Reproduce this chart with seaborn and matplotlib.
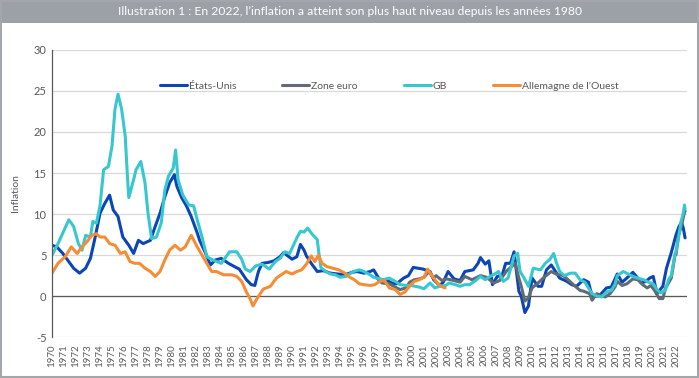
import matplotlib
matplotlib.use('Agg')
import matplotlib.pyplot as plt
from matplotlib.patches import Rectangle
import pandas as pd
import seaborn as sns

# valeurs (annee decimale, inflation %)
us_t = [1970.0, 1970.4, 1970.9, 1971.4, 1971.8, 1972.3, 1972.8, 1973.2, 1973.6, 1974.0, 1974.4, 1974.8,
        1975.1, 1975.5, 1975.9, 1976.4, 1976.8, 1977.2, 1977.6, 1978.2, 1978.6, 1979.0, 1979.4, 1979.8,
        1980.2, 1980.4, 1980.8, 1981.2, 1981.6, 1982.1, 1982.3, 1982.8, 1983.2, 1983.6, 1984.1, 1984.7,
        1985.2, 1985.6, 1986.2, 1986.6, 1986.9, 1987.2, 1987.5, 1988.0, 1988.5, 1989.0, 1989.3, 1990.0,
        1990.4, 1990.7, 1991.0, 1991.2, 1991.6, 1992.1, 1992.6, 1993.2, 1993.8, 1994.4, 1995.0, 1995.4,
        1996.0, 1996.5, 1996.8, 1997.3, 1997.8, 1998.3, 1998.7, 1999.3, 1999.7, 2000.1, 2000.5, 2000.9,
        2001.5, 2001.8, 2002.3, 2002.6, 2003.0, 2003.5, 2004.0, 2004.4, 2005.1, 2005.5, 2005.7, 2006.1,
        2006.4, 2006.7, 2007.1, 2007.5, 2007.8, 2008.2, 2008.5, 2008.9, 2009.1, 2009.4, 2009.7, 2010.0,
        2010.5, 2010.8, 2011.2, 2011.6, 2012.0, 2012.3, 2012.9, 2013.3, 2013.7, 2014.3, 2014.7, 2015.0,
        2015.4, 2015.7, 2016.2, 2016.6, 2017.1, 2017.5, 2017.9, 2018.4, 2018.8, 2019.1, 2019.5, 2019.8,
        2020.1, 2020.4, 2020.9, 2021.2, 2021.6, 2022.0, 2022.25, 2022.45, 2022.6, 2022.75]
us_v = [6.2, 6.0, 5.2, 4.2, 3.4, 2.8, 3.4, 4.6, 7.2, 10.1, 11.3, 12.3,
        10.5, 9.7, 7.2, 6.2, 5.2, 6.8, 6.4, 6.8, 8.5, 10.1, 12.1, 13.8,
        14.8, 13.4, 12.0, 11.0, 9.7, 7.7, 6.8, 5.2, 3.8, 4.4, 4.6, 4.0,
        3.6, 3.3, 2.0, 1.4, 1.3, 3.0, 4.0, 4.1, 4.3, 4.8, 5.3, 4.5,
        4.8, 6.3, 5.6, 4.9, 4.0, 3.0, 3.1, 2.8, 2.7, 2.6, 2.9, 3.0,
        2.8, 3.0, 3.2, 2.0, 2.0, 1.6, 1.5, 2.2, 2.5, 3.5, 3.4, 3.3,
        3.0, 2.0, 1.3, 1.7, 3.0, 2.1, 1.9, 3.0, 3.2, 4.0, 4.7, 3.9,
        4.3, 1.4, 2.4, 2.5, 4.0, 4.0, 5.4, 0.6, 0.0, -2.0, -1.2, 2.2,
        1.2, 1.2, 3.2, 3.8, 2.9, 2.2, 1.8, 1.4, 1.2, 2.0, 1.7, 0.0,
        0.0, 0.2, 1.0, 1.1, 2.7, 1.7, 2.2, 2.9, 2.2, 1.6, 1.8, 2.2,
        2.4, 0.3, 1.2, 3.4, 5.3, 7.5, 8.5, 9.0, 8.3, 7.1]

ez_t = [1997.0, 1997.5, 1998.1, 1998.6, 1999.0, 1999.5, 1999.8, 2000.2, 2000.6, 2001.0, 2001.4, 2001.8,
        2002.0, 2002.5, 2002.9, 2003.5, 2004.0, 2004.4, 2005.0, 2005.7, 2006.2, 2006.8, 2007.3, 2007.9,
        2008.3, 2008.6, 2008.9, 2009.1, 2009.4, 2009.7, 2010.0, 2010.5, 2011.0, 2011.6, 2012.0, 2012.6,
        2013.0, 2013.6, 2014.0, 2014.3, 2014.8, 2015.0, 2015.4, 2015.7, 2016.1, 2016.5, 2016.9, 2017.1,
        2017.5, 2017.9, 2018.4, 2018.8, 2019.3, 2019.6, 2019.9, 2020.2, 2020.6, 2020.9, 2021.1, 2021.6,
        2021.9, 2022.0, 2022.2, 2022.45, 2022.65, 2022.75]
ez_v = [2.3, 1.6, 1.5, 1.1, 0.8, 1.0, 1.7, 2.0, 2.1, 2.3, 3.0, 2.2,
        2.5, 1.9, 2.1, 1.9, 1.7, 2.4, 2.0, 2.5, 2.3, 1.6, 1.9, 3.1,
        3.6, 4.0, 2.2, 1.2, -0.6, -0.2, 1.0, 1.6, 2.3, 3.0, 2.7, 2.5,
        2.0, 1.2, 0.7, 0.6, 0.3, -0.5, 0.3, 0.1, -0.1, 0.3, 1.1, 1.8,
        1.3, 1.5, 2.1, 2.0, 1.3, 1.0, 1.3, 0.7, -0.3, -0.3, 0.9, 2.2,
        4.9, 5.1, 7.4, 8.6, 9.9, 10.4]

gb_t = [1970.0, 1970.5, 1970.9, 1971.4, 1971.8, 1972.2, 1972.5, 1972.8, 1973.2, 1973.4, 1973.7, 1974.0,
        1974.3, 1974.7, 1975.0, 1975.25, 1975.5, 1975.8, 1976.1, 1976.3, 1976.4, 1976.8, 1977.0, 1977.4,
        1977.75, 1978.0, 1978.3, 1978.7, 1979.1, 1979.4, 1979.7, 1980.1, 1980.3, 1980.5, 1980.9, 1981.4,
        1981.8, 1982.1, 1982.5, 1982.9, 1983.4, 1984.1, 1984.8, 1985.4, 1985.8, 1986.1, 1986.5, 1987.0,
        1987.5, 1988.1, 1988.6, 1989.0, 1989.4, 1989.8, 1990.4, 1990.7, 1991.0, 1991.3, 1991.7, 1992.1,
        1992.25, 1992.4, 1992.8, 1993.2, 1993.6, 1994.0, 1994.5, 1995.1, 1995.6, 1996.0, 1996.5, 1996.8,
        1997.6, 1998.1, 1998.6, 1999.0, 1999.5, 1999.9, 2000.6, 2001.0, 2001.5, 2001.9, 2002.3, 2002.8,
        2003.1, 2003.6, 2004.0, 2004.4, 2004.8, 2005.3, 2005.7, 2006.1, 2006.5, 2006.9, 2007.2, 2007.6,
        2008.0, 2008.5, 2008.8, 2009.0, 2009.3, 2009.7, 2010.1, 2010.4, 2010.7, 2011.1, 2011.5, 2011.8,
        2012.0, 2012.3, 2012.7, 2013.2, 2013.6, 2014.0, 2014.4, 2014.7, 2015.0, 2015.4, 2015.8, 2016.2,
        2016.6, 2016.9, 2017.1, 2017.6, 2018.0, 2018.4, 2018.8, 2019.3, 2019.7, 2020.1, 2020.4, 2020.7,
        2021.1, 2021.4, 2021.6, 2021.9, 2022.0, 2022.2, 2022.4, 2022.6, 2022.7, 2022.75]
gb_v = [5.0, 6.4, 7.7, 9.3, 8.5, 6.4, 5.6, 7.4, 7.2, 9.1, 8.9, 11.0,
        15.4, 15.8, 18.3, 22.8, 24.6, 22.8, 19.5, 14.2, 12.0, 14.2, 15.4, 16.4,
        13.8, 10.1, 7.0, 7.2, 8.9, 12.9, 14.6, 15.6, 17.8, 14.2, 12.3, 11.1,
        11.0, 9.3, 7.2, 4.8, 4.4, 4.0, 5.4, 5.4, 4.5, 3.3, 3.0, 3.7,
        3.9, 3.3, 4.2, 4.6, 5.4, 5.2, 7.1, 7.9, 7.8, 8.3, 7.5, 6.9,
        5.1, 3.5, 3.0, 2.7, 2.6, 2.3, 2.4, 3.0, 3.2, 3.0, 2.6, 2.3,
        2.0, 2.2, 1.8, 1.4, 1.3, 1.3, 1.1, 0.9, 1.6, 1.0, 1.2, 1.3,
        1.6, 1.4, 1.2, 1.4, 1.4, 1.9, 2.4, 2.0, 2.4, 2.7, 3.0, 1.8,
        2.2, 4.9, 5.2, 3.0, 2.3, 1.2, 3.4, 3.3, 3.2, 4.0, 4.5, 5.2,
        4.2, 3.0, 2.5, 2.8, 2.8, 2.0, 1.7, 1.0, 0.3, 0.0, -0.1, 0.5,
        0.7, 1.4, 2.5, 3.0, 2.7, 2.4, 2.2, 2.0, 1.7, 1.5, 0.8, 0.4,
        0.7, 2.1, 2.5, 5.1, 5.5, 7.0, 9.0, 10.1, 11.1, 10.6]

de_t = [1970.0, 1970.5, 1971.1, 1971.6, 1972.1, 1972.5, 1972.9, 1973.3, 1973.7, 1974.0, 1974.4, 1974.8,
        1975.25, 1975.7, 1976.1, 1976.5, 1976.9, 1977.3, 1977.75, 1978.2, 1978.6, 1979.0, 1979.4, 1979.8,
        1980.25, 1980.7, 1981.1, 1981.6, 1982.1, 1982.5, 1982.9, 1983.3, 1983.7, 1984.3, 1985.0, 1985.4,
        1985.8, 1986.2, 1986.5, 1986.75, 1987.0, 1987.6, 1988.2, 1988.7, 1989.5, 1990.0, 1990.4, 1990.8,
        1991.2, 1991.6, 1991.9, 1992.2, 1992.5, 1992.9, 1993.4, 1993.9, 1994.4, 1994.8, 1995.2, 1995.6,
        1996.0, 1996.5, 1996.9, 1997.3, 1997.7, 1998.1, 1998.6, 1999.0, 1999.4, 1999.8, 2000.2, 2000.6,
        2001.0, 2001.3, 2001.7, 2002.0, 2002.4, 2002.75]
de_v = [2.8, 4.0, 4.8, 6.0, 5.2, 6.0, 6.6, 7.4, 7.6, 7.2, 7.2, 6.4,
        6.2, 5.2, 5.4, 4.2, 4.0, 4.0, 3.4, 3.0, 2.4, 3.0, 4.4, 5.6,
        6.2, 5.6, 6.0, 7.4, 6.0, 5.0, 4.0, 3.0, 3.0, 2.6, 2.6, 2.4,
        1.8, 0.5, -0.3, -1.2, -0.5, 0.85, 1.2, 2.2, 3.0, 2.7, 3.0, 3.2,
        3.9, 4.9, 4.2, 5.0, 4.0, 3.6, 3.4, 3.2, 2.8, 2.3, 2.0, 1.5,
        1.4, 1.3, 1.4, 1.8, 1.9, 1.0, 0.8, 0.2, 0.5, 1.2, 1.8, 2.0,
        2.3, 3.3, 2.4, 1.8, 1.2, 1.0]

series_names = ['États-Unis', 'Zone euro', 'GB', "Allemagne de l’Ouest"]
colors = ['#0b46b6', '#626b74', '#36c7cf', '#f68d35']
years = list(range(1970, 2023))
yticks = [-5, 0, 5, 10, 15, 20, 25, 30]

df = pd.concat([
    pd.DataFrame({'t': us_t, 'v': us_v, 'pays': series_names[0]}),
    pd.DataFrame({'t': ez_t, 'v': ez_v, 'pays': series_names[1]}),
    pd.DataFrame({'t': gb_t, 'v': gb_v, 'pays': series_names[2]}),
    pd.DataFrame({'t': de_t, 'v': de_v, 'pays': series_names[3]}),
])

sns.set_style('white')
plt.rcParams['font.family'] = ['Lato', 'DejaVu Sans']

fig = plt.figure(figsize=(6.99, 3.78), dpi=100)
ax = fig.add_axes([0.0744, 0.108, 0.9086, 0.760])

sns.lineplot(data=df, x='t', y='v', hue='pays', hue_order=series_names,
             palette=colors, estimator=None, linewidth=2.2, ax=ax, sort=True)

ax.set_xlim(1970, 2022.92)
ax.set_ylim(-5, 30)
ax.set_yticks(yticks)
ax.set_yticklabels([str(y) for y in yticks], fontsize=8, color='#595959')
ax.set_xticks(years)
ax.set_xticklabels([str(y) for y in years], rotation=90, fontsize=7, color='#595959')
ax.tick_params(axis='both', length=0, pad=4)
ax.tick_params(axis='x', pad=5)
ax.grid(axis='y', color='#d9d9d9', linewidth=0.9)
ax.set_axisbelow(True)
for s in ['top', 'right', 'bottom']:
    ax.spines[s].set_visible(False)
ax.spines['left'].set_color('#595959')
ax.spines['left'].set_linewidth(0.9)
ax.axhline(0, color='#595959', linewidth=0.9, zorder=1)

ax.set_xlabel('')
ax.set_ylabel('Inflation', fontsize=7.5, color='#595959', labelpad=10)

leg = ax.legend(loc='center', bbox_to_anchor=(0.531, 0.875), ncol=4, frameon=False,
                fontsize=7.5, handlelength=2.6, handletextpad=0.2, columnspacing=4.4)
for t in leg.get_texts():
    t.set_color('#595959')

# bandeau du titre et cadre
fig.patches.append(Rectangle((0, 1 - 23 / 378), 1, 23 / 378, transform=fig.transFigure,
                             facecolor='#9ba1a7', edgecolor='none', zorder=0))
fig.patches.append(Rectangle((0.0015, 0.002), 0.997, 0.996, transform=fig.transFigure,
                             facecolor='none', edgecolor='#a3a7ab', linewidth=1.5, zorder=5))
fig.text(0.5, 1 - 11.5 / 378,
         "Illustration 1 : En 2022, l’inflation a atteint son plus haut niveau depuis les années 1980",
         ha='center', va='center', color='white', fontsize=8.7)

fig.savefig('out.png', dpi=100)
